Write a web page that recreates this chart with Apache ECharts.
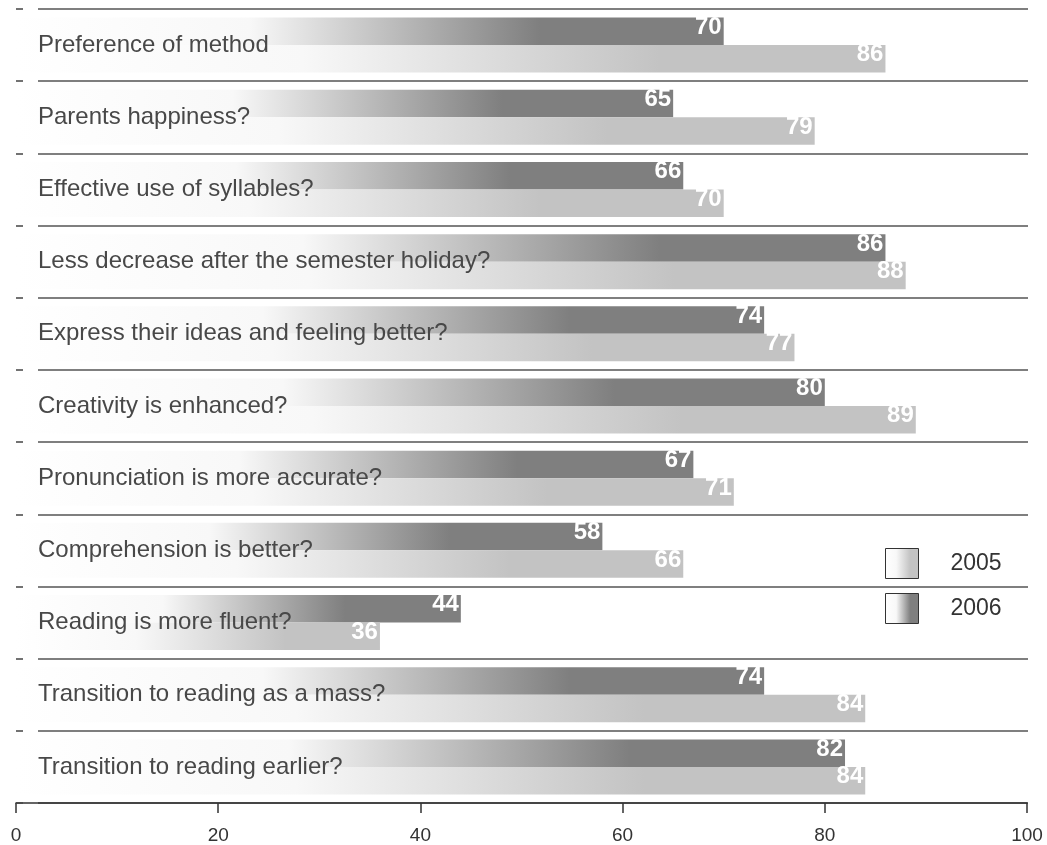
<!DOCTYPE html>
<html>
<head>
<meta charset="utf-8">
<script src="https://cdn.jsdelivr.net/npm/echarts@6/dist/echarts.min.js"></script>
<style>
html,body{margin:0;padding:0;background:#fff;}
#chart{width:1047px;height:845px;}
</style>
</head>
<body>
<div id="chart"></div>
<script>
const categories = [
  'Preference of method',
  'Parents happiness?',
  'Effective use of syllables?',
  'Less decrease after the semester holiday?',
  'Express their ideas and feeling better?',
  'Creativity is enhanced?',
  'Pronunciation is more accurate?',
  'Comprehension is better?',
  'Reading is more fluent?',
  'Transition to reading as a mass?',
  'Transition to reading earlier?'
];
const values2006 = [70, 65, 66, 86, 74, 80, 67, 58, 44, 74, 82];
const values2005 = [86, 79, 70, 88, 77, 89, 71, 66, 36, 84, 84];
const xTicks = [0, 20, 40, 60, 80, 100];

const FONT = 'Liberation Sans, Arial, sans-serif';
function grad(c) {
  return new echarts.graphic.LinearGradient(0, 0, 1, 0, [
    {offset: 0, color: '#ffffff'},
    {offset: 0.33, color: '#f8f8f8'},
    {offset: 0.74, color: c},
    {offset: 1, color: c}
  ]);
}
const c2006 = '#7f7f7f';
const c2005 = '#c3c3c3';

const barLabel = {
  show: true,
  position: 'insideRight',
  distance: 2,
  offset: [0, -4],
  color: '#ffffff',
  fontFamily: FONT,
  fontWeight: 'bold',
  fontSize: 24
};

const chart = echarts.init(document.getElementById('chart'), null, {renderer: 'canvas'});
chart.setOption({
  backgroundColor: '#ffffff',
  animation: false,
  legend: {
    data: ['2005', '2006'],
    orient: 'vertical',
    left: 880,
    top: 543,
    itemWidth: 33,
    itemHeight: 30,
    itemGap: 14,
    icon: 'rect',
    itemStyle: {borderColor: '#333', borderWidth: 1},
    textStyle: {fontFamily: FONT, fontSize: 23, color: '#333', padding: [0, 0, 0, 27]}
  },
  grid: [
    {left: 16, right: 20, top: 9, bottom: 42},
    {left: 38, right: 19, top: 9, bottom: 42}
  ],
  xAxis: [
    {
      type: 'value', gridIndex: 0, min: xTicks[0], max: xTicks[xTicks.length - 1], interval: 20,
      splitLine: {show: false},
      axisLine: {show: true, lineStyle: {color: '#333', width: 1.5}},
      axisTick: {show: true, length: 10, lineStyle: {color: '#333', width: 1.5}},
      axisLabel: {margin: 23, fontFamily: FONT, fontSize: 19, color: '#333'}
    },
    {type: 'value', gridIndex: 1, min: 0, max: 100, show: false}
  ],
  yAxis: [
    {
      type: 'category', gridIndex: 0, data: categories, inverse: true, z: 5,
      axisLine: {show: false},
      axisTick: {show: true, inside: true, length: 7, lineStyle: {color: '#444', width: 1.5}},
      axisLabel: {inside: true, margin: 22, fontFamily: FONT, fontSize: 24, color: '#484848'},
      splitLine: {show: false}
    },
    {
      type: 'category', gridIndex: 1, data: categories, inverse: true,
      axisLine: {show: false}, axisTick: {show: false}, axisLabel: {show: false},
      splitLine: {show: true, lineStyle: {color: '#555', width: 1.5}}
    }
  ],
  series: [
    {
      name: '2006', type: 'bar', xAxisIndex: 0, yAxisIndex: 0,
      data: values2006, barWidth: 27.5, barGap: '0%',
      itemStyle: {color: grad(c2006)},
      label: barLabel
    },
    {
      name: '2005', type: 'bar', xAxisIndex: 0, yAxisIndex: 0,
      data: values2005, barWidth: 27.5, barGap: '0%',
      itemStyle: {color: grad(c2005)},
      label: barLabel
    }
  ]
});
</script>
</body>
</html>
